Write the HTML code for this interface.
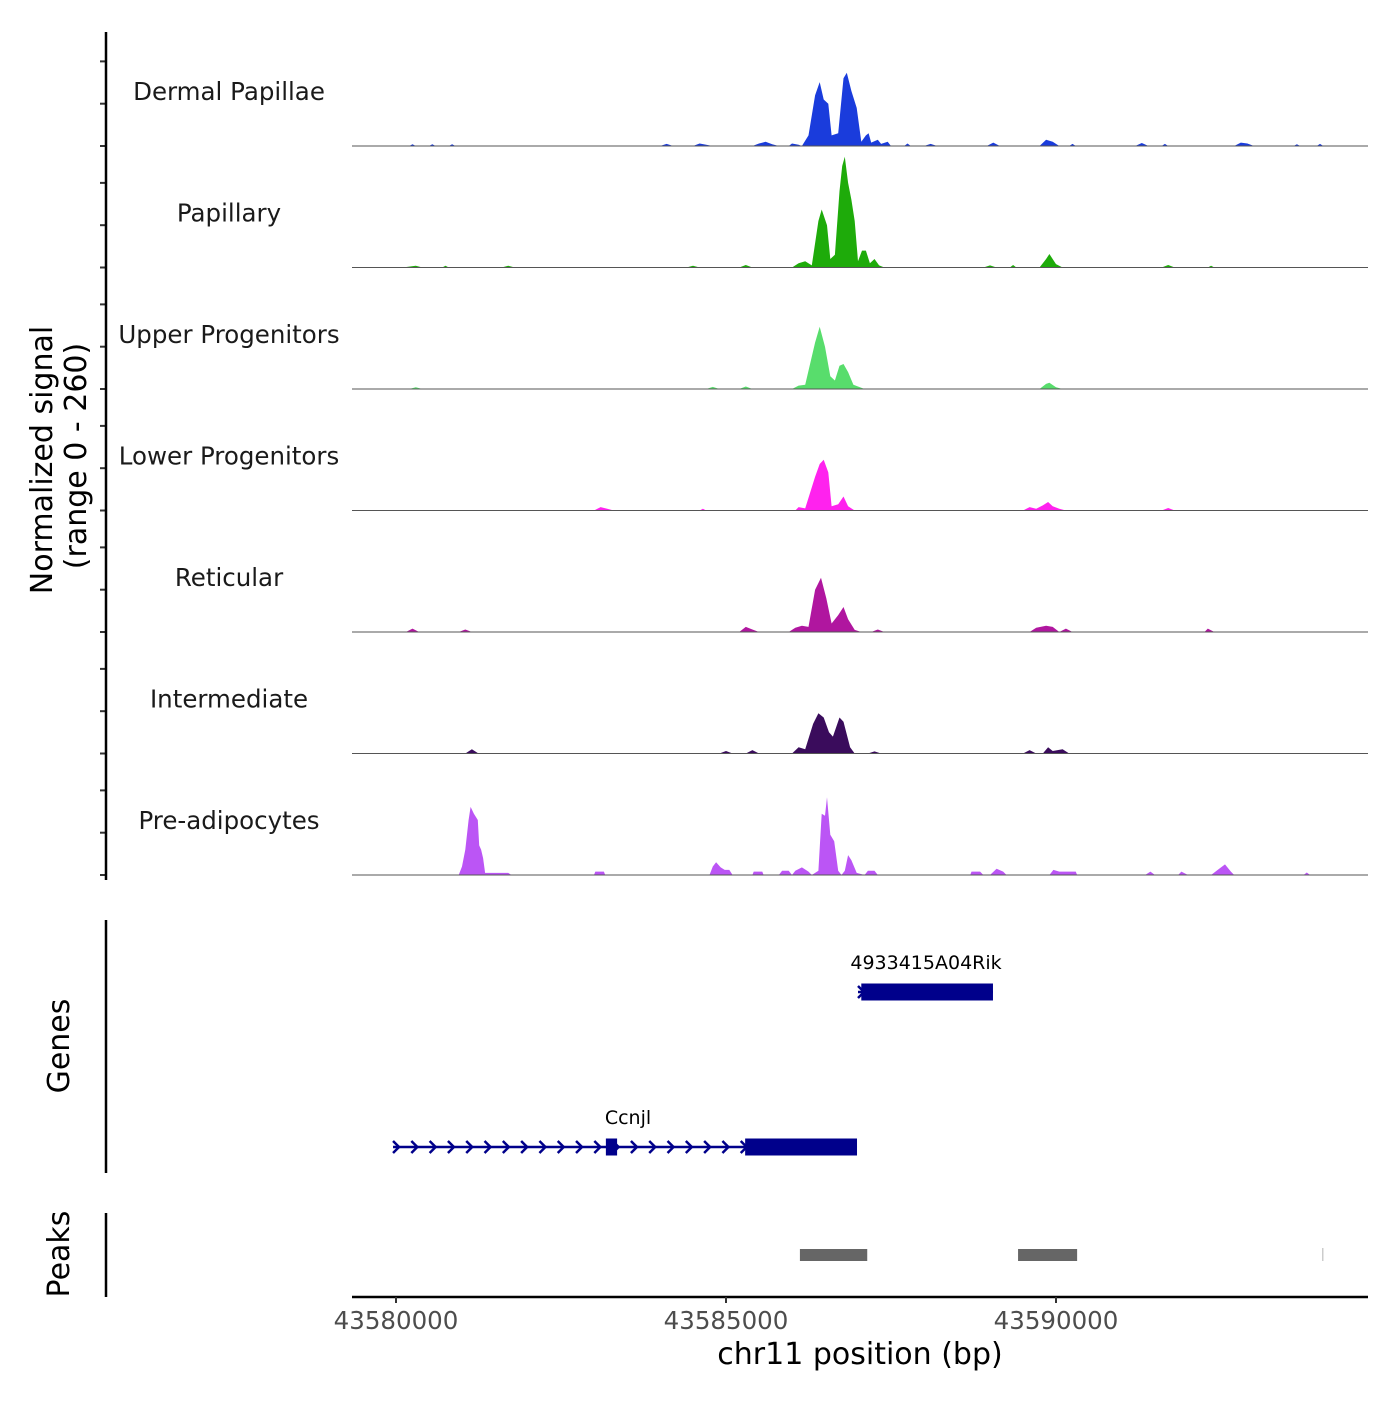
<!DOCTYPE html>
<html><head><meta charset="utf-8"><style>
body{margin:0;background:#fff}
svg text{font-family:"DejaVu Sans","Liberation Sans",sans-serif}
</style></head><body>
<svg id="chart" width="1400" height="1400" xmlns="http://www.w3.org/2000/svg">
<g id="tracks"></g>
<g id="genes"></g>
<g id="peaks"></g>
<g id="axes"></g>
</svg>
<script>
const START = 43580000;
const trackNames = ["Dermal Papillae","Papillary","Upper Progenitors","Lower Progenitors","Reticular","Intermediate","Pre-adipocytes"];
const trackColors = ["#1a3cdc","#1eab0a","#58dd6c","#ff22ee","#b0169f","#3a0c5c","#bb55f5"];
// signal points: [bp offset from START, normalized value]
const sigDermal = [[-100,0],[200,0],[250,4],[300,0],[500,0],[550,4],[600,0],[800,0],[850,4],[900,0],[4000,0],[4100,5],[4200,0],[4500,0],[4600,6],[4700,3],[4800,0],[5400,0],[5500,6],[5600,10],[5700,4],[5800,0],[5950,0],[6000,6],[6100,3],[6150,0],[6250,25],[6350,120],[6420,151],[6480,110],[6550,100],[6600,25],[6700,30],[6780,160],[6830,173],[6900,130],[6980,90],[7050,10],[7120,25],[7160,30],[7200,8],[7300,15],[7350,5],[7450,10],[7500,0],[7700,0],[7750,6],[7800,0],[8000,0],[8100,5],[8200,0],[8950,0],[9050,8],[9150,0],[9750,0],[9850,15],[9950,10],[10050,0],[10200,0],[10250,5],[10300,0],[11200,0],[11300,7],[11400,0],[11600,0],[11650,5],[11700,0],[12700,0],[12800,8],[12900,6],[13000,0],[13600,0],[13650,4],[13700,0],[13950,0],[14000,5],[14050,0]];
const sigPapillary = [[-100,0],[100,0],[300,4],[400,0],[700,0],[750,4],[800,0],[1600,0],[1700,4],[1800,0],[4400,0],[4500,4],[4600,0],[5200,0],[5300,6],[5400,0],[6000,0],[6100,10],[6200,15],[6300,5],[6400,110],[6450,137],[6530,100],[6580,20],[6650,30],[6720,180],[6760,240],[6800,262],[6850,200],[6900,160],[6950,110],[7000,15],[7060,40],[7120,40],[7180,10],[7250,20],[7320,5],[7400,0],[8900,0],[9000,5],[9100,0],[9300,0],[9350,6],[9400,0],[9750,0],[9850,20],[9900,32],[10000,8],[10100,0],[11600,0],[11700,6],[11800,0],[12300,0],[12350,4],[12400,0]];
const sigUpper = [[-100,0],[200,0],[300,4],[400,0],[4700,0],[4800,5],[4900,0],[5200,0],[5300,6],[5400,0],[6000,0],[6100,8],[6200,10],[6350,110],[6420,147],[6500,100],[6580,30],[6650,20],[6720,55],[6780,59],[6850,40],[6930,10],[7000,6],[7100,0],[9750,0],[9850,12],[9900,15],[10000,4],[10100,0]];
const sigLower = [[-100,0],[3000,0],[3100,8],[3200,4],[3300,0],[4600,0],[4650,4],[4700,0],[6050,0],[6100,8],[6200,5],[6350,80],[6420,110],[6480,120],[6550,90],[6600,10],[6700,15],[6780,33],[6850,10],[6950,0],[9500,0],[9600,8],[9700,4],[9800,12],[9880,20],[9950,10],[10050,4],[10150,0],[11600,0],[11700,6],[11800,0]];
const sigReticular = [[-100,0],[150,0],[250,8],[350,0],[950,0],[1050,6],[1150,0],[5200,0],[5300,12],[5400,6],[5500,0],[5950,0],[6050,10],[6150,15],[6250,12],[6350,100],[6440,128],[6520,80],[6600,20],[6700,40],[6780,59],[6850,30],[6950,5],[7050,0],[7200,0],[7300,6],[7400,0],[9600,0],[9700,10],[9850,15],[9950,12],[10050,0],[10150,8],[10250,0],[12250,0],[12300,8],[12400,0]];
const sigIntermediate = [[-100,0],[1050,0],[1150,10],[1250,0],[4900,0],[5000,6],[5100,0],[5300,0],[5400,8],[5500,0],[6000,0],[6100,15],[6200,10],[6320,70],[6400,95],[6480,85],[6560,50],[6620,40],[6720,85],[6780,75],[6880,15],[6950,0],[7150,0],[7250,5],[7350,0],[9500,0],[9600,8],[9700,0],[9800,0],[9880,15],[9950,6],[10100,10],[10200,0]];
const sigPreadipo = [[-100,0],[950,0],[1000,20],[1050,60],[1100,130],[1130,161],[1180,145],[1240,130],[1260,70],[1290,60],[1320,40],[1350,5],[1700,5],[1750,0],[3000,0],[3020,8],[3150,8],[3170,0],[4750,0],[4800,20],[4850,30],[4920,18],[4980,12],[5050,12],[5100,0],[5400,0],[5420,8],[5550,8],[5570,0],[5800,0],[5850,10],[5950,10],[6000,0],[6050,10],[6150,18],[6250,8],[6300,0],[6400,10],[6450,145],[6500,140],[6530,184],[6580,95],[6640,80],[6700,10],[6750,0],[6800,10],[6850,47],[6900,35],[6980,5],[7100,0],[7150,10],[7250,10],[7300,0],[8700,0],[8720,8],[8850,8],[8900,0],[9000,0],[9100,15],[9200,8],[9250,0],[9900,0],[9960,12],[10050,8],[10300,8],[10320,0],[11350,0],[11430,8],[11500,0],[11850,0],[11900,8],[12000,0],[12350,0],[12450,12],[12560,25],[12650,8],[12700,0],[13750,0],[13800,6],[13850,0]];
const trackSignals = [sigDermal,sigPapillary,sigUpper,sigLower,sigReticular,sigIntermediate,sigPreadipo];
const xTicks = [43580000,43585000,43590000];
const yTickValues = [0,100,200];
const genes = [{name:"4933415A04Rik",start:7000,end:9045,exons:[[7050,9045]],row:0},{name:"Ccnjl",start:-45,end:6985,exons:[[3180,3350],[5290,6985]],row:1}];
const peakRegions = [[6120,7140],[9425,10320]];

const NS="http://www.w3.org/2000/svg";
function mk(tag,attrs,parent){const e=document.createElementNS(NS,tag);for(const k in attrs)e.setAttribute(k,attrs[k]);parent.appendChild(e);return e;}
const X0=396, PXBP=0.066, PL=352, PR=1368;
function xs(off){return X0+off*PXBP;}
const trackH=121.5, firstBase=146, yMaxVal=260, yPx=110;
function ys(base,v){return base - v*yPx/yMaxVal;}

const tracks=document.getElementById('tracks');
const axes=document.getElementById('axes');
trackSignals.forEach((pts,i)=>{
  const base=firstBase+i*trackH;
  let d=`M${xs(pts[0][0]).toFixed(1)},${base}`;
  pts.forEach(p=>{d+=`L${Math.max(PL,xs(p[0])).toFixed(1)},${ys(base,p[1]).toFixed(1)}`;});
  d+=`L${xs(pts[pts.length-1][0]).toFixed(1)},${base}Z`;
  const a=mk('path',{d:d,fill:trackColors[i]},tracks);
  
  
  const bl=mk('line',{x1:PL,x2:PR,y1:base,y2:base,stroke:'#555','stroke-width':1},tracks);
  
  
  const t=mk('text',{x:229,y:base-46,'text-anchor':'middle','font-size':24.5,fill:'#1a1a1a'},tracks);
  t.textContent=trackNames[i];
  
  
  yTickValues.forEach(v=>{
    const tk=mk('line',{x1:100,x2:106,y1:ys(base,v),y2:ys(base,v),stroke:'#333','stroke-width':2},axes);
    
    
  });
});
[[32,880],[920,1173],[1213,1297]].forEach(r=>{
  const l=mk('line',{x1:106,x2:106,y1:r[0],y2:r[1],stroke:'#000','stroke-width':2.5},axes);
  
  
});
let yt=mk('text',{transform:'translate(52,460) rotate(-90)','text-anchor':'middle','font-size':30,fill:'#000'},axes);
yt.textContent='Normalized signal';


let yt2=mk('text',{transform:'translate(86,456) rotate(-90)','text-anchor':'middle','font-size':30,fill:'#000'},axes);
yt2.textContent='(range 0 - 260)';


let gt=mk('text',{transform:'translate(69,1046) rotate(-90)','text-anchor':'middle','font-size':30,fill:'#000'},axes);
gt.textContent='Genes';


let pt=mk('text',{transform:'translate(69,1254) rotate(-90)','text-anchor':'middle','font-size':30,fill:'#000'},axes);
pt.textContent='Peaks';


let xl=mk('line',{x1:PL,x2:PR,y1:1297,y2:1297,stroke:'#000','stroke-width':2.5},axes);


xTicks.forEach(v=>{
  const x=xs(v-START);
  const tk=mk('line',{x1:x,x2:x,y1:1297,y2:1303,stroke:'#333','stroke-width':2},axes);
  
  
  const tl=mk('text',{x:x,y:1329,'text-anchor':'middle','font-size':24.5,fill:'#4d4d4d'},axes);
  tl.textContent=String(v);
  
  
});
let xt=mk('text',{x:860,y:1364,'text-anchor':'middle','font-size':30,fill:'#000'},axes);
xt.textContent='chr11 position (bp)';


const gG=document.getElementById('genes');
const geneCol='#00008b';
genes.forEach(g=>{
  const y=g.row===0?992:1147;
  const x1=xs(g.start), x2=xs(g.end);
  const ln=mk('line',{x1:x1,x2:x2,y1:y,y2:y,stroke:geneCol,'stroke-width':2.5},gG);
  
  
  for(let ax=x1+3; ax<x2-8; ax+=18.3){
    const ar=mk('path',{d:`M${ax-3},${y-6}L${ax+3},${y}L${ax-3},${y+6}`,fill:'none',stroke:geneCol,'stroke-width':2.5},gG);
    
    
  }
  g.exons.forEach(e=>{
    const r=mk('rect',{x:xs(e[0]),y:y-8.5,width:xs(e[1])-xs(e[0]),height:17,fill:geneCol},gG);
    
    
  });
  const lb=mk('text',{x:g.row===0?926:628,y:y-23,'text-anchor':'middle','font-size':19,fill:'#000'},gG);
  lb.textContent=g.name;
  
  
});
const pG=document.getElementById('peaks');
peakRegions.forEach(p=>{
  const r=mk('rect',{x:xs(p[0]),y:1249,width:xs(p[1])-xs(p[0]),height:12,fill:'#666'},pG);
  
  
});
let tiny=mk('rect',{x:1322,y:1248,width:1.5,height:13,fill:'#ccc'},pG);


</script>
</body></html>
